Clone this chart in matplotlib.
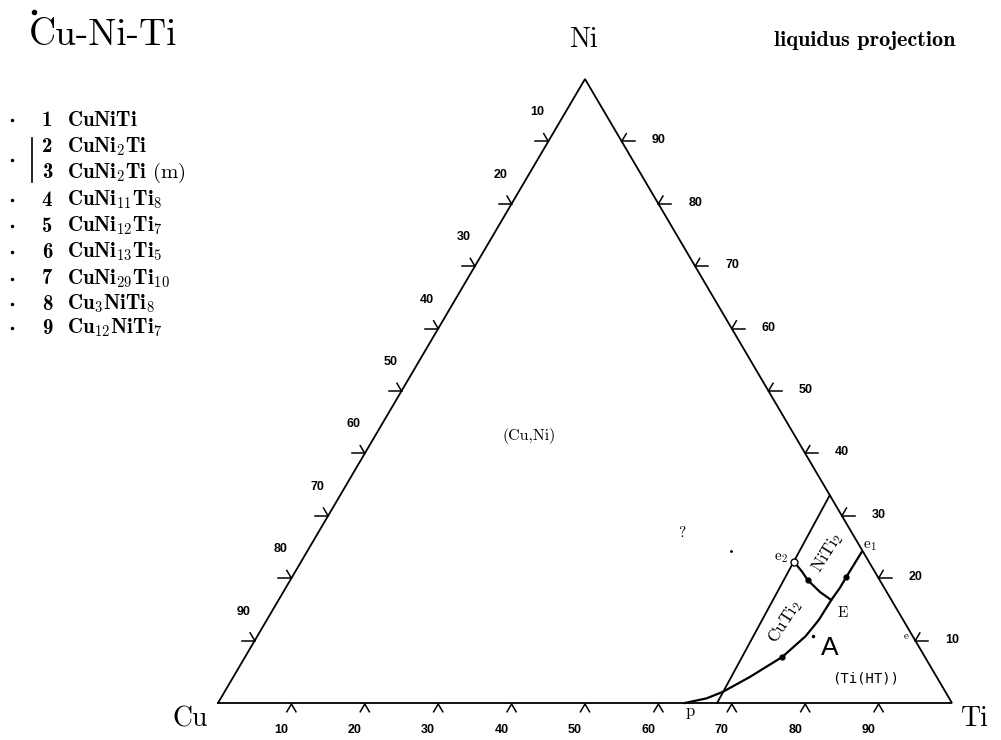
import matplotlib
matplotlib.use('Agg')
import matplotlib.pyplot as plt
import numpy as np

plt.rcParams['mathtext.fontset'] = 'cm'
plt.rcParams['axes.unicode_minus'] = False

# corners of the triangle on the page (pixels)
CU = np.array([218.0, 703.0])
TI = np.array([952.0, 703.0])
NI = np.array([585.0, 79.0])

TICKS = [10, 20, 30, 40, 50, 60, 70, 80, 90]

# phases listed at the left
phase_num = ['1', '2', '3', '4', '5', '6', '7', '8', '9']
phase_name = [r'$\mathbf{CuNiTi}$', r'$\mathbf{CuNi_{2}Ti}$', r'$\mathbf{CuNi_{2}Ti}$ (m)',
              r'$\mathbf{CuNi_{11}Ti_{8}}$', r'$\mathbf{CuNi_{12}Ti_{7}}$', r'$\mathbf{CuNi_{13}Ti_{5}}$',
              r'$\mathbf{CuNi_{29}Ti_{10}}$', r'$\mathbf{Cu_{3}NiTi_{8}}$', r'$\mathbf{Cu_{12}NiTi_{7}}$']

# lines, as (at.% Ti, at.% Ni)
tie_ti = [66.7, 68.0]
tie_ni = [33.3, 0.0]
e1_p_ti = [75.6, 75.5, 75.5, 75.3, 75.2, 74.7, 73.2, 70.4, 67.9, 66.2, 63.6]
e1_p_ni = [24.2, 20.2, 18.4, 16.5, 13.3, 10.7, 7.4, 4.2, 1.8, 0.75, 0.0]
e2_E_ti = [67.2, 69.1, 70.5, 73.1, 75.3]
e2_E_ni = [22.6, 21.0, 19.7, 17.8, 16.5]
dot_ti = [70.5, 75.5, 73.2]
dot_ni = [19.7, 20.2, 7.4]
e2_ti, e2_ni = 67.2, 22.6


def tern(ti, ni):
    ti = np.asarray(ti, float) / 100
    ni = np.asarray(ni, float) / 100
    p = CU[:, None] + np.outer(TI - CU, np.atleast_1d(ti)) + np.outer(NI - CU, np.atleast_1d(ni))
    return p[0], p[1]


def unit(v):
    return v / np.hypot(*v)


fig = plt.figure(figsize=(10.01, 7.40), dpi=100)
ax = fig.add_axes([0, 0, 1, 1])
ax.set_xlim(0, 1001)
ax.set_ylim(740, 0)
ax.axis('off')

lw = 1.3
k = 'black'

# triangle
tx, ty = tern([0, 100, 0, 0], [0, 0, 100, 0])
ax.plot(tx, ty, color=k, lw=lw, solid_joinstyle='miter')

# ticks
L = 9
up_left = unit(NI - TI)
up_right = unit(NI - CU)
tick_font = dict(family='Liberation Sans', fontsize=9, fontweight='bold', ha='center', va='center')
for v in TICKS:
    # left edge: Cu
    x, y = tern(0, 100 - v)
    x, y = x[0], y[0]
    ax.plot([x - L - 4, x], [y, y], color=k, lw=1.1)
    ax.plot([x, x + L * up_left[0]], [y, y + L * up_left[1]], color=k, lw=1.1)
    ax.text(x - 11, y - 29, str(v), **tick_font)
    # right edge: Ni
    x, y = tern(100 - v, v)
    x, y = x[0], y[0]
    ax.plot([x, x + L + 4], [y, y], color=k, lw=1.1)
    ax.plot([x, x + L * up_right[0]], [y, y + L * up_right[1]], color=k, lw=1.1)
    ax.text(x + 37, y - 1, str(v), **tick_font)
    # bottom edge: Ti
    x, y = tern(v, 0)
    x, y = x[0], y[0] + 1
    ax.plot([x - L * up_right[0], x, x - L * up_left[0]],
            [y - L * up_right[1], y, y - L * up_left[1]], color=k, lw=1.1)
    ax.text(x - 10, y + 26, str(v), **tick_font)

# phase boundaries
x, y = tern(tie_ti, tie_ni)
ax.plot(x, y, color=k, lw=lw)
x, y = tern(e1_p_ti, e1_p_ni)
ax.plot(x, y, color=k, lw=1.6)
x, y = tern(e2_E_ti, e2_E_ni)
ax.plot(x, y, color=k, lw=1.6)
x, y = tern(dot_ti, dot_ni)
ax.plot(x, y, 'o', color=k, ms=3.5)
x, y = tern(e2_ti, e2_ni)
ax.plot(x, y, 'o', mfc='white', mec=k, ms=5, mew=1.0)

# region and point labels
serif = dict(family='cmr10', ha='center', va='center')
ax.text(529, 436, '(Cu,Ni)', fontsize=11.5, **serif)
ax.text(682, 533, '?', fontsize=11, **serif)
ax.plot([731], [551], '.', color=k, ms=2)
ax.text(827, 553, r'NiTi$_{2}$', fontsize=12.5, rotation=58, **serif)
ax.text(785, 622, r'CuTi$_{2}$', fontsize=12.5, rotation=57, **serif)
ax.text(843, 613, 'E', fontsize=11, **serif)
ax.text(830, 648, 'A', family='Liberation Sans', fontsize=19, ha='center', va='center')
ax.plot([813], [636], '.', color=k, ms=3)
ax.text(866, 678, '(Ti(HT))', family='DejaVu Sans Mono', fontsize=10, ha='center', va='center')
ax.text(870, 546, r'e$_{1}$', fontsize=11, **serif)
ax.text(781, 558, r'e$_{2}$', fontsize=11, **serif)
ax.text(906, 636, 'e', fontsize=8, **serif)
ax.text(690, 711, 'p', fontsize=12, **serif)

# corner labels and headings
ax.text(583, 40, 'Ni', fontsize=20, **serif)
ax.text(190, 719, 'Cu', fontsize=20, **serif)
ax.text(975, 719, 'Ti', fontsize=20, **serif)
ax.text(29, 45, 'Cu-Ni-Ti', family='cmr10', fontsize=27, ha='left', va='baseline')
ax.plot([34], [12], 'o', color=k, ms=3)
ax.text(865, 40, 'liquidus projection', family='cmb10', fontsize=16, ha='center', va='center')

# phase list
row_y = [120, 147, 173, 200, 226, 252, 279, 304, 328]
for i, (num, name) in enumerate(zip(phase_num, phase_name)):
    y = row_y[i]
    if i not in (1, 2):
        ax.plot([12], [y], '.', color=k, ms=3)
    ax.text(47, y, num, family='cmb10', fontsize=15, ha='center', va='center')
    ax.text(67, y, name, family='cmr10', fontsize=15, ha='left', va='center')
ax.plot([12], [(row_y[1] + row_y[2]) / 2], '.', color=k, ms=3)
ax.plot([32, 32], [row_y[1] - 9, row_y[2] + 9], color=k, lw=1.2)

fig.savefig('out.png', dpi=100)
